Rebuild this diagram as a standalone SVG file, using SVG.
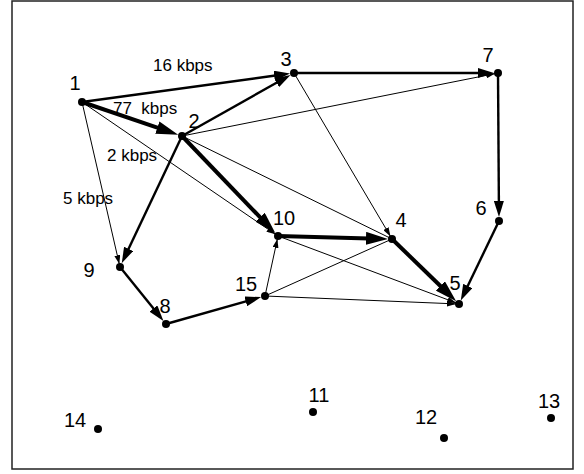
<svg xmlns="http://www.w3.org/2000/svg" width="584" height="474" viewBox="0 0 584 474">
<style>
.lbl{font-family:"Liberation Sans",Arial,sans-serif;font-size:20px;fill:#000;text-anchor:middle}
.kb{font-family:"Liberation Sans",Arial,sans-serif;font-size:17px;fill:#000}
.thick{stroke:#000;stroke-width:4;fill:none;marker-end:url(#big)}
.med{stroke:#000;stroke-width:2.4;fill:none;marker-end:url(#mid)}
.thin{stroke:#000;stroke-width:1;fill:none;marker-end:url(#small)}
.plain{stroke:#000;stroke-width:1;fill:none}
.dot{fill:#000}
</style>
<defs>
<marker id="big" markerUnits="userSpaceOnUse" viewBox="0 0 22 13" markerWidth="22" markerHeight="13" refX="3" refY="6.5" orient="auto"><path d="M0,0 L22,6.5 L0,13 z" fill="#000"/></marker>
<marker id="mid" markerUnits="userSpaceOnUse" viewBox="0 0 16 10" markerWidth="16" markerHeight="10" refX="3" refY="5" orient="auto"><path d="M0,0 L16,5 L0,10 z" fill="#000"/></marker>
<marker id="small" markerUnits="userSpaceOnUse" viewBox="0 0 9 6" markerWidth="9" markerHeight="6" refX="9" refY="3" orient="auto"><path d="M0,0 L9,3 L0,6 z" fill="#000"/></marker>
</defs>
<rect x="12" y="1" width="561" height="468" fill="#fff" stroke="#222" stroke-width="1.5"/>
<g id="connectors">
<line class="thin" x1="82" y1="102" x2="119.3" y2="264.1"/>
<line class="thin" x1="82" y1="102" x2="275.5" y2="234.3"/>
<line class="thin" x1="182" y1="136" x2="495.1" y2="73.6"/>
<line class="plain" x1="182" y1="136" x2="392" y2="239"/>
<line class="thin" x1="294" y1="73" x2="390.5" y2="236.4"/>
<line class="thin" x1="278" y1="236" x2="456.2" y2="302.9"/>
<line class="thin" x1="265" y1="296" x2="277.4" y2="238.9"/>
<line class="plain" x1="265" y1="296" x2="392" y2="239"/>
<line class="thin" x1="265" y1="296" x2="456" y2="303.9"/>
<line class="med" x1="82" y1="102" x2="277.2" y2="75.3"/>
<line class="med" x1="182" y1="136" x2="279.2" y2="81.3"/>
<line class="med" x1="294" y1="73" x2="481" y2="73"/>
<line class="med" x1="498" y1="73" x2="498.9" y2="204"/>
<line class="med" x1="499" y1="221" x2="466.4" y2="288.7"/>
<line class="med" x1="182" y1="136" x2="127.3" y2="251.6"/>
<line class="med" x1="120" y1="267" x2="155.3" y2="310.8"/>
<line class="med" x1="166" y1="324" x2="248.6" y2="300.6"/>
<line class="thick" x1="82" y1="102" x2="160.2" y2="128.6"/>
<line class="thick" x1="182" y1="136" x2="262.1" y2="219.4"/>
<line class="thick" x1="278" y1="236" x2="369" y2="238.4"/>
<line class="thick" x1="392" y1="239" x2="442.5" y2="288"/>
<text class="kb" x="153" y="71">16 kbps</text>
<text class="kb" x="113" y="114" xml:space="preserve">77  kbps</text>
<text class="kb" x="107" y="161">2 kbps</text>
<text class="kb" x="63" y="204">5 kbps</text>
</g>
<g id="n1"><circle class="dot" cx="82" cy="102" r="4"/><text class="lbl" x="75" y="90">1</text></g>
<g id="n2"><circle class="dot" cx="182" cy="136" r="4"/><text class="lbl" x="194" y="128">2</text></g>
<g id="n3"><circle class="dot" cx="294" cy="73" r="4"/><text class="lbl" x="286" y="66">3</text></g>
<g id="n4"><circle class="dot" cx="392" cy="239" r="4"/><text class="lbl" x="401" y="227">4</text></g>
<g id="n5"><circle class="dot" cx="459" cy="304" r="4"/><text class="lbl" x="455" y="290">5</text></g>
<g id="n6"><circle class="dot" cx="499" cy="221" r="4"/><text class="lbl" x="481" y="215">6</text></g>
<g id="n7"><circle class="dot" cx="498" cy="73" r="4"/><text class="lbl" x="488" y="62">7</text></g>
<g id="n8"><circle class="dot" cx="166" cy="324" r="4"/><text class="lbl" x="165" y="313">8</text></g>
<g id="n9"><circle class="dot" cx="120" cy="267" r="4"/><text class="lbl" x="89" y="277">9</text></g>
<g id="n10"><circle class="dot" cx="278" cy="236" r="4"/><text class="lbl" x="284" y="225">10</text></g>
<g id="n11"><circle class="dot" cx="313" cy="412" r="4"/><text class="lbl" x="319" y="402">11</text></g>
<g id="n12"><circle class="dot" cx="444" cy="438" r="4"/><text class="lbl" x="426" y="424">12</text></g>
<g id="n13"><circle class="dot" cx="551" cy="418" r="4"/><text class="lbl" x="549" y="408">13</text></g>
<g id="n14"><circle class="dot" cx="98" cy="429" r="4"/><text class="lbl" x="75" y="427">14</text></g>
<g id="n15"><circle class="dot" cx="265" cy="296" r="4"/><text class="lbl" x="246" y="291">15</text></g>
</svg>
